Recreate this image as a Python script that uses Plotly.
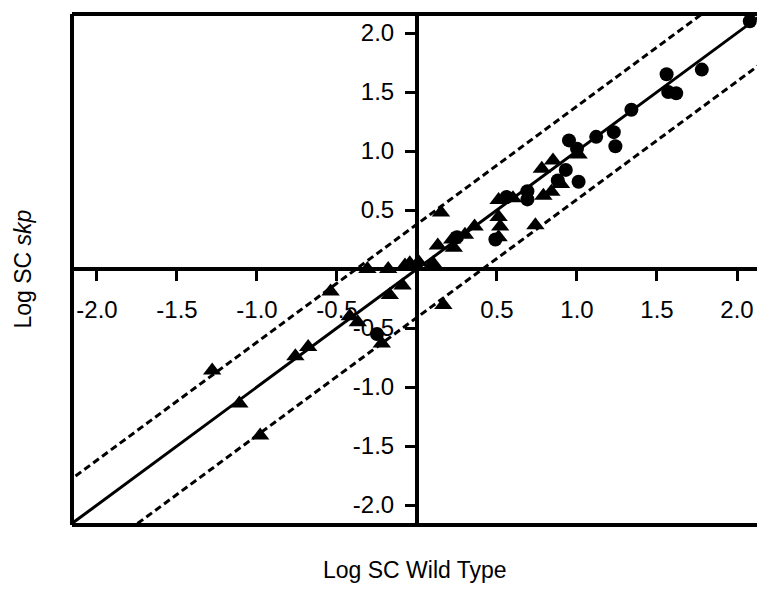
import plotly.graph_objects as go

# Circles series
circ_x = [2.08, 1.78, 1.56, 1.57, 1.62, 1.34, 1.23, 1.24, 1.12, 0.95, 1.00, 0.93, 0.88, 1.01,
          0.69, 0.69, 0.56, 0.49, 0.25, -0.25]
circ_y = [2.10, 1.69, 1.65, 1.50, 1.49, 1.35, 1.16, 1.04, 1.12, 1.09, 1.02, 0.84, 0.75, 0.74,
          0.66, 0.59, 0.61, 0.25, 0.27, -0.55]

# Triangles series
tri_x = [1.01, 0.85, 0.78, 0.90, 0.84, 0.79, 0.74, 0.60, 0.51, 0.51, 0.52, 0.51, 0.36, 0.30,
         0.22, 0.23, 0.13, 0.15, 0.10, 0.165, 0.01, -0.075, -0.045, -0.18, -0.31, -0.09,
         -0.17, -0.54, -0.42, -0.37, -0.22, -0.68, -0.76, -1.28, -1.11, -0.98]
tri_y = [0.97, 0.92, 0.85, 0.72, 0.655, 0.62, 0.37, 0.60, 0.585, 0.44, 0.36, 0.27, 0.36, 0.29,
         0.25, 0.18, 0.20, 0.48, 0.05, -0.305, 0.06, 0.03, 0.05, 0.0, 0.0, -0.14,
         -0.22, -0.19, -0.40, -0.45, -0.63, -0.66, -0.74, -0.86, -1.14, -1.41]

# Fit line and bands (slope, intercept)
fit_slope = 1.0
fit_intercept = 0.0
band_upper = 0.38
band_lower = -0.41
line_x = [-2.3, 2.3]

tick_vals = [-2.0, -1.5, -1.0, -0.5, 0.5, 1.0, 1.5, 2.0]
tick_text = ["-2.0", "-1.5", "-1.0", "-0.5", "0.5", "1.0", "1.5", "2.0"]

x_range = [-2.156, 2.125]
y_range = [-2.169, 2.161]

fig = go.Figure()

fit_y = [fit_slope * x + fit_intercept for x in line_x]
up_y = [v + band_upper for v in fit_y]
lo_y = [v + band_lower for v in fit_y]

fig.add_trace(go.Scatter(x=line_x, y=fit_y, mode="lines",
                         line=dict(color="black", width=3), showlegend=False))
fig.add_trace(go.Scatter(x=line_x, y=up_y, mode="lines",
                         line=dict(color="black", width=3, dash="7px,4px"), showlegend=False))
fig.add_trace(go.Scatter(x=line_x, y=lo_y, mode="lines",
                         line=dict(color="black", width=3, dash="7px,4px"), showlegend=False))

fig.add_trace(go.Scatter(x=tri_x, y=tri_y, mode="markers",
                         marker=dict(symbol="triangle-up", size=16, color="black"),
                         showlegend=False, cliponaxis=False))
fig.add_trace(go.Scatter(x=circ_x, y=circ_y, mode="markers",
                         marker=dict(symbol="circle", size=14, color="black"),
                         showlegend=False, cliponaxis=False))

xpos = (0 - y_range[0]) / (y_range[1] - y_range[0])
ypos = (0 - x_range[0]) / (x_range[1] - x_range[0])

axis_font = dict(family="Liberation Sans, Arial, sans-serif", size=24, color="black")

fig.update_layout(
    width=757, height=591,
    margin=dict(l=72, r=0, t=14, b=66),
    plot_bgcolor="white", paper_bgcolor="white",
    xaxis=dict(range=x_range, anchor="free", position=xpos, showgrid=False, zeroline=False,
               showline=True, linewidth=4, linecolor="black",
               ticks="outside", ticklen=10, tickwidth=3, tickcolor="black",
               tickvals=tick_vals, ticktext=tick_text, tickfont=axis_font,
               ticklabelstandoff=8),
    yaxis=dict(range=y_range, anchor="free", position=ypos, showgrid=False, zeroline=False,
               showline=True, linewidth=4, linecolor="black",
               ticks="outside", ticklen=10, tickwidth=3, tickcolor="black",
               tickvals=tick_vals, ticktext=tick_text, tickfont=axis_font,
               ticklabelstandoff=6),
    font=dict(family="Liberation Sans, Arial, sans-serif", color="black"),
)

frame = dict(color="black", width=4)
fig.add_shape(type="line", xref="paper", yref="paper", x0=0, x1=1, y0=1, y1=1, line=frame)
fig.add_shape(type="line", xref="paper", yref="paper", x0=0, x1=0, y0=0, y1=1, line=frame)
fig.add_shape(type="line", xref="paper", yref="paper", x0=0, x1=1, y0=0, y1=0, line=frame)

fig.add_annotation(text="Log SC Wild Type", xref="paper", yref="paper", x=0.5, y=0,
                   yshift=-45, showarrow=False, xanchor="center", yanchor="middle",
                   font=dict(family="Liberation Sans, Arial, sans-serif", size=23, color="black"))
fig.add_annotation(text="Log SC <i>skp</i>", xref="paper", yref="paper", x=0, y=0.5,
                   xshift=-50, showarrow=False, textangle=-90, xanchor="center", yanchor="middle",
                   font=dict(family="Liberation Sans, Arial, sans-serif", size=23, color="black"))

fig.write_html(
    "out.html",
    config={"displayModeBar": False},
    post_script="document.body.style.margin='0';document.body.style.overflow='hidden';",
)
